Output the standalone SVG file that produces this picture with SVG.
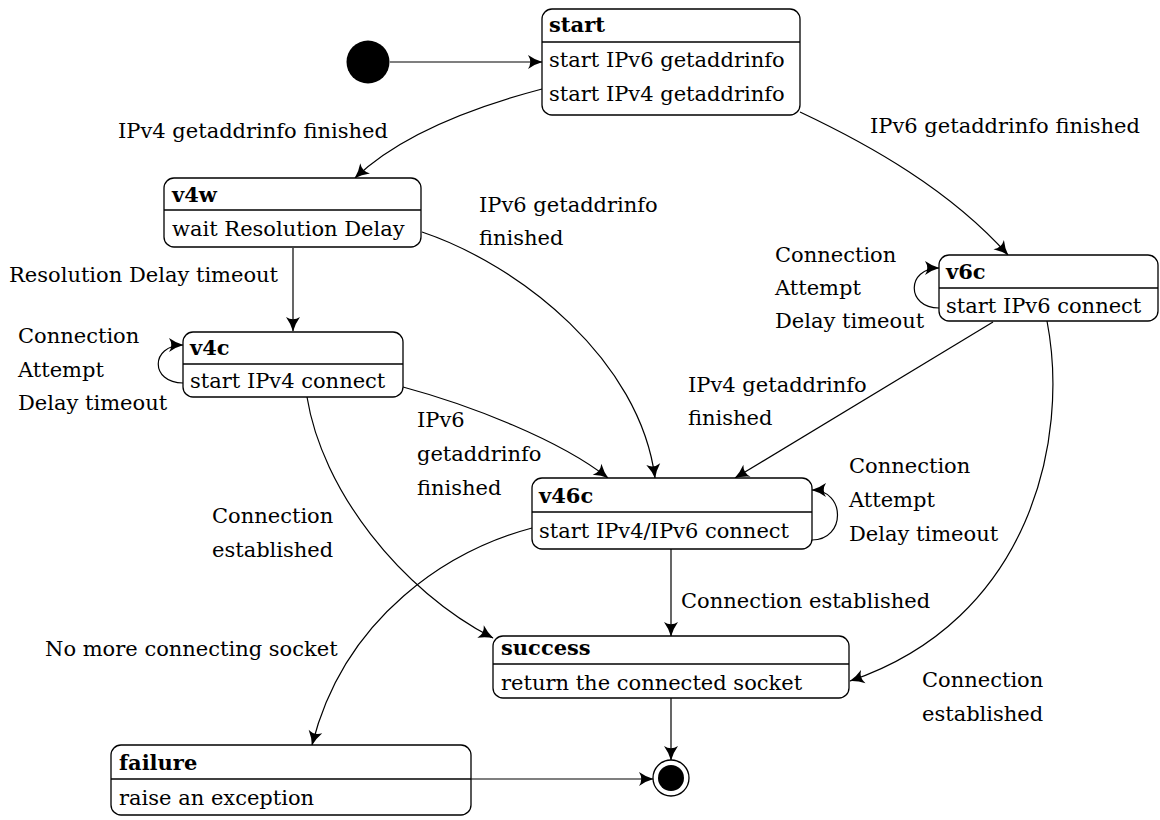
<svg xmlns="http://www.w3.org/2000/svg" width="1160" height="820" viewBox="0 0 1160 820">
<style>
.box{fill:#fff;stroke:#000;stroke-width:1.3}
.sep{stroke:#000;stroke-width:1.3}
.t{font-family:"DejaVu Serif","Liberation Serif",serif;font-size:21px;fill:#000}
.b{font-weight:bold}
.e{fill:none;stroke:#000;stroke-width:1.2;marker-end:url(#arr)}
</style>
<defs>
<marker id="arr" viewBox="-15 -8 16 16" refX="0" refY="0" markerWidth="16" markerHeight="16" markerUnits="userSpaceOnUse" orient="auto">
<path d="M0.5,0 Q-7,-2 -14,-7 Q-9.5,0 -14,7 Q-7,2 0.5,0 Z" fill="#000"/>
</marker>
</defs>
<rect width="1160" height="820" fill="#fff"/>
<g id="connectors">
<path class="e" d="M390,62 L542,62"/>
<path class="e" d="M542,89 C470,108 400,135 355,178"/>
<path class="e" d="M800,112 C870,145 950,190 1008,255"/>
<path class="e" d="M293,248 L293,331"/>
<path class="e" d="M422,232 C520,265 640,360 655,478"/>
<path class="e" d="M403,387 C470,405 560,440 608,478"/>
<path class="e" d="M993,322 L735,478"/>
<path class="e" d="M1047,321 C1070,440 1030,620 850,681"/>
<path class="e" d="M183,383 C150,383 150,345 183,345"/>
<path class="e" d="M939,308 C906,308 906,268 939,268"/>
<path class="e" d="M812,540 C846,540 846,490 812,490"/>
<path class="e" d="M307,397 C322,490 400,590 493,638"/>
<path class="e" d="M532,528 C450,550 345,615 312,745"/>
<path class="e" d="M671,549 L671,636"/>
<path class="e" d="M671,698 L671,760"/>
<path class="e" d="M471,779 L653,779"/>
</g>
<g id="labels">
<text class="t" x="118" y="138">IPv4 getaddrinfo finished</text>
<text class="t" x="870" y="133">IPv6 getaddrinfo finished</text>
<text class="t" x="9" y="282">Resolution Delay timeout</text>
<text class="t" x="479" y="212">IPv6 getaddrinfo</text>
<text class="t" x="479" y="245">finished</text>
<text class="t" x="775" y="262">Connection</text>
<text class="t" x="775" y="295">Attempt</text>
<text class="t" x="775" y="328">Delay timeout</text>
<text class="t" x="18" y="343">Connection</text>
<text class="t" x="18" y="377">Attempt</text>
<text class="t" x="18" y="410">Delay timeout</text>
<text class="t" x="688" y="392">IPv4 getaddrinfo</text>
<text class="t" x="688" y="425">finished</text>
<text class="t" x="417" y="427">IPv6</text>
<text class="t" x="417" y="461">getaddrinfo</text>
<text class="t" x="417" y="495">finished</text>
<text class="t" x="212" y="523">Connection</text>
<text class="t" x="212" y="557">established</text>
<text class="t" x="849" y="473">Connection</text>
<text class="t" x="849" y="507">Attempt</text>
<text class="t" x="849" y="541">Delay timeout</text>
<text class="t" x="45" y="656">No more connecting socket</text>
<text class="t" x="681" y="608">Connection established</text>
<text class="t" x="922" y="687">Connection</text>
<text class="t" x="922" y="721">established</text>
</g>
<g id="initial">
<circle cx="368" cy="62" r="21.5" fill="#000"/>
</g>
<g id="start">
<rect class="box" x="542" y="9" width="258" height="106" rx="10"/>
<line class="sep" x1="542" y1="42" x2="800" y2="42"/>
<text class="t b" x="549" y="32">start</text>
<text class="t" x="549" y="67">start IPv6 getaddrinfo</text>
<text class="t" x="549" y="101">start IPv4 getaddrinfo</text>
</g>
<g id="v4w">
<rect class="box" x="164" y="178" width="257" height="69" rx="10"/>
<line class="sep" x1="164" y1="210" x2="421" y2="210"/>
<text class="t b" x="172" y="202">v4w</text>
<text class="t" x="172" y="236">wait Resolution Delay</text>
</g>
<g id="v4c">
<rect class="box" x="183" y="332" width="220" height="65" rx="10"/>
<line class="sep" x1="183" y1="364" x2="403" y2="364"/>
<text class="t b" x="190" y="355">v4c</text>
<text class="t" x="190" y="388">start IPv4 connect</text>
</g>
<g id="v6c">
<rect class="box" x="939" y="255" width="219" height="66" rx="10"/>
<line class="sep" x1="939" y1="288" x2="1158" y2="288"/>
<text class="t b" x="946" y="279">v6c</text>
<text class="t" x="946" y="313">start IPv6 connect</text>
</g>
<g id="v46c">
<rect class="box" x="532" y="478" width="280" height="71" rx="10"/>
<line class="sep" x1="532" y1="512" x2="812" y2="512"/>
<text class="t b" x="539" y="503">v46c</text>
<text class="t" x="539" y="538">start IPv4/IPv6 connect</text>
</g>
<g id="success">
<rect class="box" x="493" y="636" width="356" height="62" rx="10"/>
<line class="sep" x1="493" y1="664" x2="849" y2="664"/>
<text class="t b" x="501" y="655">success</text>
<text class="t" x="501" y="690">return the connected socket</text>
</g>
<g id="failure">
<rect class="box" x="111" y="745" width="360" height="70" rx="10"/>
<line class="sep" x1="111" y1="779" x2="471" y2="779"/>
<text class="t b" x="119" y="770">failure</text>
<text class="t" x="119" y="805">raise an exception</text>
</g>
<g id="final">
<circle cx="671" cy="778" r="18" fill="#fff" stroke="#000" stroke-width="1.3"/>
<circle cx="671" cy="778" r="13" fill="#000"/>
</g>
</svg>
